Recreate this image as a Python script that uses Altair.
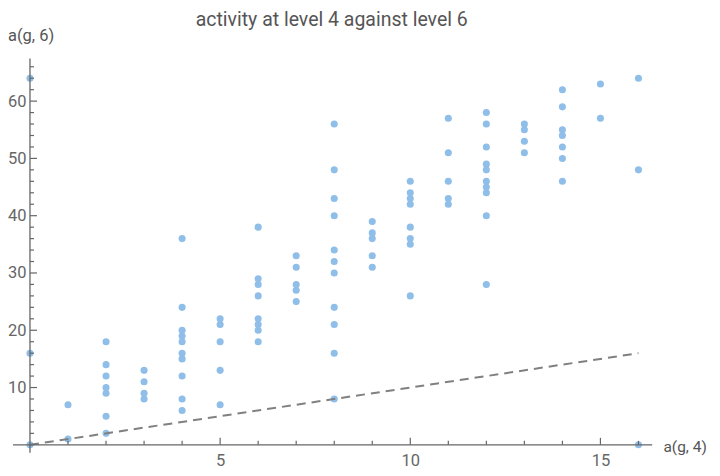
import altair as alt
import pandas as pd

TITLE = "activity at level 4 against level 6"
X_TITLE = "a(g, 4)"
Y_TITLE = "a(g, 6)"

# observed points, grouped by a(g, 4)
a4 = ([0] * 3 + [1] * 2 + [2] * 7 + [3] * 4 + [4] * 10 + [5] * 5 + [6] * 8 + [7] * 5
      + [8] * 11 + [9] * 5 + [10] * 8 + [11] * 5 + [12] * 10 + [13] * 4 + [14] * 7
      + [15] * 2 + [16] * 3)
a6 = ([0, 16, 64]
      + [1, 7]
      + [2, 5, 9, 10, 12, 14, 18]
      + [8, 9, 11, 13]
      + [6, 8, 12, 15, 16, 18, 19, 20, 24, 36]
      + [7, 13, 18, 21, 22]
      + [18, 20, 21, 22, 26, 28, 29, 38]
      + [25, 27, 28, 31, 33]
      + [8, 16, 21, 24, 30, 32, 34, 40, 43, 48, 56]
      + [31, 33, 36, 37, 39]
      + [26, 35, 36, 38, 42, 43, 44, 46]
      + [42, 43, 46, 51, 57]
      + [28, 40, 44, 45, 46, 48, 49, 52, 56, 58]
      + [51, 53, 55, 56]
      + [46, 50, 52, 54, 55, 59, 62]
      + [57, 63]
      + [0, 48, 64])

ref_x = [0, 16]
ref_y = [0, 16]

x_labels = [5, 10, 15]
y_labels = [10, 20, 30, 40, 50, 60]
x_minor = [v for v in range(1, 17) if v % 5 != 0]
y_minor = [v for v in range(2, 67, 2) if v % 10 != 0]

X_MAX = 16.36
Y_MAX = 67.45
W = 622.7
H = 386.7

xs = alt.Scale(domain=[0, X_MAX], nice=False, zero=False)
ys = alt.Scale(domain=[0, Y_MAX], nice=False, zero=False)

AX_COLOR = "#666666"
FONT = "Roboto"

x_axis = alt.Axis(
    values=x_labels, domain=False, ticks=False, tickSize=0, grid=False,
    labelFontSize=16.5, labelPadding=8, labelColor=AX_COLOR, labelFont=FONT,
    title=None)
y_axis = alt.Axis(
    values=y_labels, domain=False, ticks=False, tickSize=0, grid=False,
    labelFontSize=16.5, labelPadding=4, labelColor=AX_COLOR, labelFont=FONT,
    title=None)

pts_df = pd.DataFrame({"a4": a4, "a6": a6})
ref_df = pd.DataFrame({"x": ref_x, "y": ref_y})

ref_line = alt.Chart(ref_df).mark_line(
    strokeDash=[9, 6], color="#808080", strokeWidth=2
).encode(
    x=alt.X("x:Q", scale=xs, axis=x_axis),
    y=alt.Y("y:Q", scale=ys, axis=y_axis),
)

points = alt.Chart(pts_df).mark_circle(size=50, opacity=1, color="#8FBEE8").encode(
    x=alt.X("a4:Q", scale=xs, axis=x_axis),
    y=alt.Y("a6:Q", scale=ys, axis=y_axis),
)

dummy = pd.DataFrame({"d": [0]})
x_axis_line = alt.Chart(dummy).mark_rule(color=AX_COLOR, strokeWidth=1.3).encode(
    x=alt.value(-17), x2=alt.value(W), y=alt.value(H))
y_axis_line = alt.Chart(dummy).mark_rule(color=AX_COLOR, strokeWidth=1.3).encode(
    x=alt.value(0), y=alt.value(0), y2=alt.value(H + 8))

x_major_ticks = alt.Chart(pd.DataFrame({"v": x_labels})).mark_rule(
    color=AX_COLOR, strokeWidth=1.2).encode(
    x=alt.X("v:Q", scale=xs, axis=x_axis), y=alt.value(H), y2=alt.value(H - 7))
x_minor_ticks = alt.Chart(pd.DataFrame({"v": x_minor})).mark_rule(
    color=AX_COLOR, strokeWidth=1.2).encode(
    x=alt.X("v:Q", scale=xs, axis=x_axis), y=alt.value(H), y2=alt.value(H - 4))
y_major_ticks = alt.Chart(pd.DataFrame({"v": y_labels})).mark_rule(
    color=AX_COLOR, strokeWidth=1.2).encode(
    y=alt.Y("v:Q", scale=ys, axis=y_axis), x=alt.value(0), x2=alt.value(7))
y_minor_ticks = alt.Chart(pd.DataFrame({"v": y_minor})).mark_rule(
    color=AX_COLOR, strokeWidth=1.2).encode(
    y=alt.Y("v:Q", scale=ys, axis=y_axis), x=alt.value(0), x2=alt.value(4))

title_txt = alt.Chart(pd.DataFrame({"t": [TITLE]})).mark_text(
    align="center", baseline="alphabetic", font=FONT, fontSize=19.5, color="#555555"
).encode(text="t:N", x=alt.value(302), y=alt.value(-32))

x_title_txt = alt.Chart(pd.DataFrame({"t": [X_TITLE]})).mark_text(
    align="left", baseline="alphabetic", font=FONT, fontSize=15.5, color="#555555"
).encode(text="t:N", x=alt.value(634), y=alt.value(H + 6.7))

y_title_txt = alt.Chart(pd.DataFrame({"t": [Y_TITLE]})).mark_text(
    align="left", baseline="alphabetic", font=FONT, fontSize=16.5, color="#555555"
).encode(text="t:N", x=alt.value(-22), y=alt.value(-17))

chart = alt.layer(
    points, ref_line, x_minor_ticks, x_major_ticks, y_minor_ticks, y_major_ticks,
    x_axis_line, y_axis_line, title_txt, x_title_txt, y_title_txt,
).properties(
    width=W, height=H,
    padding={"left": 22, "top": 50.3, "right": 59.9, "bottom": 28},
    autosize=alt.AutoSizeParams(type="none"),
).configure_view(stroke=None)

chart.save("out.html", embed_options={"renderer": "svg", "actions": False})
